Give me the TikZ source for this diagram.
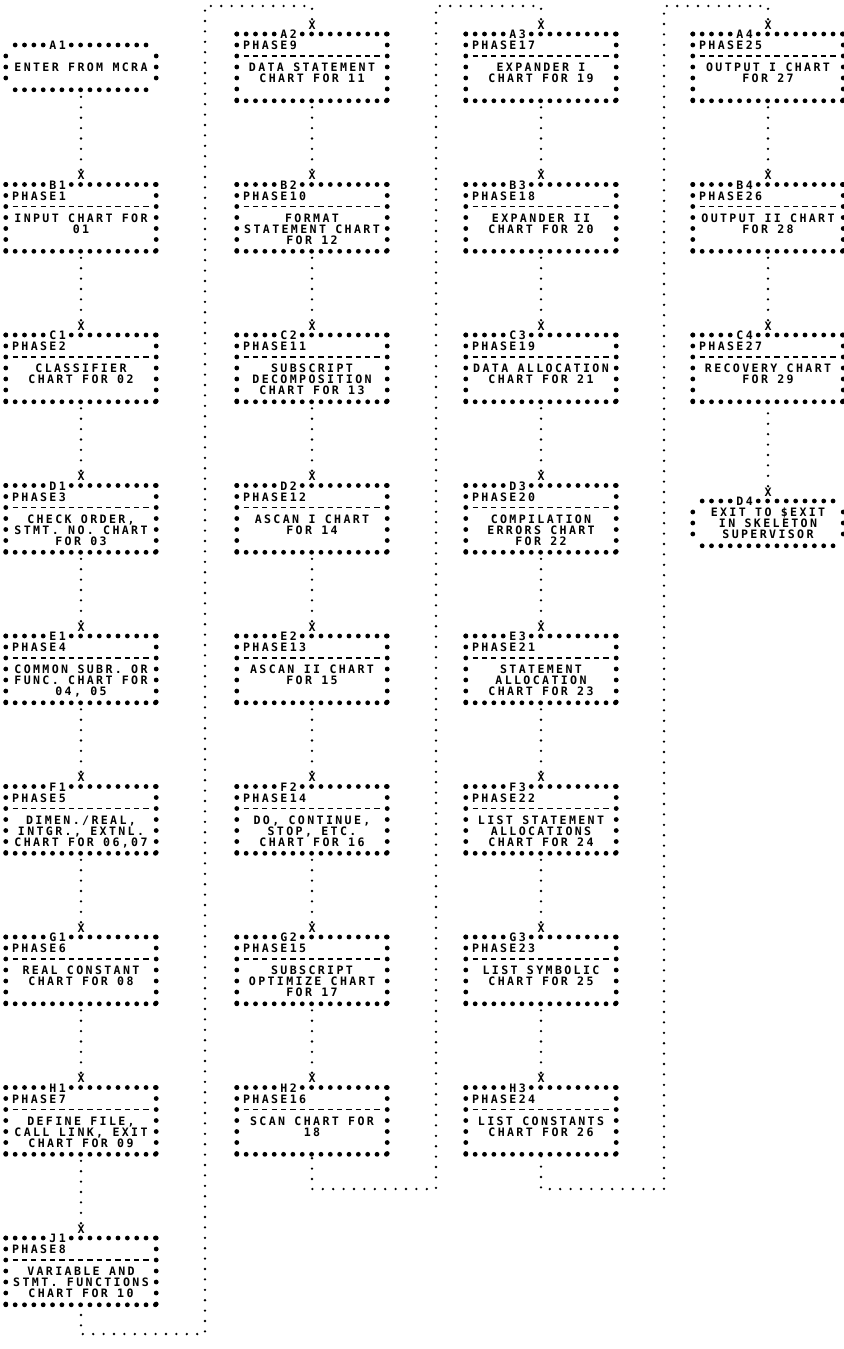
\documentclass[tikz,border=0pt]{standalone}
\usepackage{fontspec}
\usetikzlibrary{positioning}
\newfontfamily\prt{DejaVu Sans Mono}[LetterSpace=20.4]
\newlength\chw \setlength\chw{4.675pt}
\newlength\lnh \setlength\lnh{5.5pt}
\newcommand\prtfont{\prt\bfseries\fontsize{5.8pt}{5.5pt}\selectfont\frenchspacing
  \fontdimen2\font=4.675pt\fontdimen3\font=0pt\fontdimen4\font=0pt\spaceskip=4.675pt\relax}
\newcommand\tg[1]{\makebox[16\chw][l]{\hspace*{4.63\chw}#1}}
\newcommand\ph[1]{\makebox[16\chw][l]{\hspace*{0.63\chw}#1}\\\mbox{}\\}

\begin{document}
\begin{tikzpicture}[x=0.5pt,y=-0.5pt]
\tikzset{
  star/.style={line width=2.4pt,line cap=round,dash pattern=on 0pt off \chw},
  starcol/.style={line width=2.4pt,line cap=round,dash pattern=on 0pt off \lnh},
  rule/.style={line width=0.8pt,dash pattern=on 2.6pt off 2.075pt},
  chartbox/.style={inner sep=0pt,text width=16*\chw,align=center,font=\prtfont,
    execute at begin node={\spaceskip=\chw\relax},
    text height=2.1pt,text depth=30.9pt,anchor=north,
    append after command={
      (\tikzlastnode.north west) edge[star] ([xshift=4*\chw+0.2pt]\tikzlastnode.north west)
      ([xshift=7*\chw]\tikzlastnode.north west) edge[star] ([xshift=0.2pt]\tikzlastnode.north east)
      (\tikzlastnode.south west) edge[star] ([xshift=0.2pt]\tikzlastnode.south east)
      (\tikzlastnode.north west) edge[starcol] ([yshift=-0.2pt]\tikzlastnode.south west)
      (\tikzlastnode.north east) edge[starcol] ([yshift=-0.2pt]\tikzlastnode.south east)
      ([shift={(\chw-1.3pt,-2*\lnh)}]\tikzlastnode.north west) edge[rule] ([shift={(1.3pt-\chw,-2*\lnh)}]\tikzlastnode.north east)
    }},
  termbox/.style={inner sep=0pt,text width=16*\chw,align=center,font=\prtfont,
    execute at begin node={\spaceskip=\chw\relax},
    text height=2.1pt,text depth=19.9pt,anchor=north,
    append after command={
      ([xshift=\chw]\tikzlastnode.north west) edge[star] ([xshift=4*\chw+0.2pt]\tikzlastnode.north west)
      ([xshift=7*\chw]\tikzlastnode.north west) edge[star] ([xshift=0.2pt-\chw]\tikzlastnode.north east)
      ([xshift=\chw]\tikzlastnode.south west) edge[star] ([xshift=0.2pt-\chw]\tikzlastnode.south east)
      ([yshift=-\lnh]\tikzlastnode.north west) edge[starcol] ([yshift=\lnh-0.2pt]\tikzlastnode.south west)
      ([yshift=-\lnh]\tikzlastnode.north east) edge[starcol] ([yshift=\lnh-0.2pt]\tikzlastnode.south east)
    }},
  xmark/.style={font=\prtfont,inner sep=0pt,text height=4.2pt,text depth=0pt},
  link/.style={line width=1.3pt,line cap=round,dash pattern=on 0pt off 5.2pt,shorten <=0.7pt}
}
\fill[white] (0,0) rectangle (844,1349);
\useasboundingbox (0,0) rectangle (844,1349);

\node[termbox] (a1) at (81,45) {\tg{A1}\\\mbox{}\\ENTER FROM MCRA};
\node[chartbox] (b1) at (81,184.5) {\tg{B1}\\\ph{PHASE1}INPUT CHART FOR\\01};
\node[chartbox] (c1) at (81,335) {\tg{C1}\\\ph{PHASE2}CLASSIFIER\\CHART FOR 02};
\node[chartbox] (d1) at (81,485.5) {\tg{D1}\\\ph{PHASE3}CHECK ORDER,\\STMT. NO. CHART\\FOR 03};
\node[chartbox] (e1) at (81,636) {\tg{E1}\\\ph{PHASE4}COMMON SUBR. OR\\FUNC. CHART FOR\\04, 05};
\node[chartbox] (f1) at (81,786.5) {\tg{F1}\\\ph{PHASE5}DIMEN./REAL,\\INTGR., EXTNL.\\CHART FOR 06,07};
\node[chartbox] (g1) at (81,937) {\tg{G1}\\\ph{PHASE6}REAL CONSTANT\\CHART FOR 08};
\node[chartbox] (h1) at (81,1087.5) {\tg{H1}\\\ph{PHASE7}DEFINE FILE,\\CALL LINK, EXIT\\CHART FOR 09};
\node[chartbox] (j1) at (81,1238) {\tg{J1}\\\ph{PHASE8}VARIABLE AND\\STMT. FUNCTIONS\\CHART FOR 10};

\node[chartbox] (a2) at (312,34) {\tg{A2}\\\ph{PHASE9}DATA STATEMENT\\CHART FOR 11};
\node[chartbox] (b2) at (312,184.5) {\tg{B2}\\\ph{PHASE10}FORMAT\\STATEMENT CHART\\FOR 12};
\node[chartbox] (c2) at (312,335) {\tg{C2}\\\ph{PHASE11}SUBSCRIPT\\DECOMPOSITION\\CHART FOR 13};
\node[chartbox] (d2) at (312,485.5) {\tg{D2}\\\ph{PHASE12}ASCAN I CHART\\FOR 14};
\node[chartbox] (e2) at (312,636) {\tg{E2}\\\ph{PHASE13}ASCAN II CHART\\FOR 15};
\node[chartbox] (f2) at (312,786.5) {\tg{F2}\\\ph{PHASE14}DO, CONTINUE,\\STOP, ETC.\\CHART FOR 16};
\node[chartbox] (g2) at (312,937) {\tg{G2}\\\ph{PHASE15}SUBSCRIPT\\OPTIMIZE CHART\\FOR 17};
\node[chartbox] (h2) at (312,1087.5) {\tg{H2}\\\ph{PHASE16}SCAN CHART FOR\\18};

\node[chartbox] (a3) at (541,34) {\tg{A3}\\\ph{PHASE17}EXPANDER I\\CHART FOR 19};
\node[chartbox] (b3) at (541,184.5) {\tg{B3}\\\ph{PHASE18}EXPANDER II\\CHART FOR 20};
\node[chartbox] (c3) at (541,335) {\tg{C3}\\\ph{PHASE19}DATA ALLOCATION\\CHART FOR 21};
\node[chartbox] (d3) at (541,485.5) {\tg{D3}\\\ph{PHASE20}COMPILATION\\ERRORS CHART\\FOR 22};
\node[chartbox] (e3) at (541,636) {\tg{E3}\\\ph{PHASE21}STATEMENT\\ALLOCATION\\CHART FOR 23};
\node[chartbox] (f3) at (541,786.5) {\tg{F3}\\\ph{PHASE22}LIST STATEMENT\\ALLOCATIONS\\CHART FOR 24};
\node[chartbox] (g3) at (541,937) {\tg{G3}\\\ph{PHASE23}LIST SYMBOLIC\\CHART FOR 25};
\node[chartbox] (h3) at (541,1087.5) {\tg{H3}\\\ph{PHASE24}LIST CONSTANTS\\CHART FOR 26};

\node[chartbox] (a4) at (768,34) {\tg{A4}\\\ph{PHASE25}OUTPUT I CHART\\FOR 27};
\node[chartbox] (b4) at (768,184.5) {\tg{B4}\\\ph{PHASE26}OUTPUT II CHART\\FOR 28};
\node[chartbox] (c4) at (768,335) {\tg{C4}\\\ph{PHASE27}RECOVERY CHART\\FOR 29};
\node[termbox] (d4) at (768,501) {\tg{D4}\\EXIT TO \$EXIT\\IN SKELETON\\SUPERVISOR};

\node[xmark,above=2.1pt of b1] (xb1) {X}; \node[xmark,above=2.1pt of c1] (xc1) {X};
\node[xmark,above=2.1pt of d1] (xd1) {X}; \node[xmark,above=2.1pt of e1] (xe1) {X};
\node[xmark,above=2.1pt of f1] (xf1) {X}; \node[xmark,above=2.1pt of g1] (xg1) {X};
\node[xmark,above=2.1pt of h1] (xh1) {X}; \node[xmark,above=2.1pt of j1] (xj1) {X};
\node[xmark,above=2.1pt of a2] (xa2) {X}; \node[xmark,above=2.1pt of b2] (xb2) {X};
\node[xmark,above=2.1pt of c2] (xc2) {X}; \node[xmark,above=2.1pt of d2] (xd2) {X};
\node[xmark,above=2.1pt of e2] (xe2) {X}; \node[xmark,above=2.1pt of f2] (xf2) {X};
\node[xmark,above=2.1pt of g2] (xg2) {X}; \node[xmark,above=2.1pt of h2] (xh2) {X};
\node[xmark,above=2.1pt of a3] (xa3) {X}; \node[xmark,above=2.1pt of b3] (xb3) {X};
\node[xmark,above=2.1pt of c3] (xc3) {X}; \node[xmark,above=2.1pt of d3] (xd3) {X};
\node[xmark,above=2.1pt of e3] (xe3) {X}; \node[xmark,above=2.1pt of f3] (xf3) {X};
\node[xmark,above=2.1pt of g3] (xg3) {X}; \node[xmark,above=2.1pt of h3] (xh3) {X};
\node[xmark,above=2.1pt of a4] (xa4) {X}; \node[xmark,above=2.1pt of b4] (xb4) {X};
\node[xmark,above=2.1pt of c4] (xc4) {X}; \node[xmark,above=2.1pt of d4] (xd4) {X};

\coordinate (tl2) at (205,6); \coordinate (bl2) at (205,1334);
\coordinate (tl3) at (436,6); \coordinate (bl3) at (436,1189);
\coordinate (tl4) at (664,6); \coordinate (bl4) at (664,1189);

\draw[link](xb1)--(a1); \draw[link](xc1)--(b1); \draw[link](xd1)--(c1); \draw[link](xe1)--(d1);
\draw[link](xf1)--(e1); \draw[link](xg1)--(f1); \draw[link](xh1)--(g1); \draw[link](xj1)--(h1);
\draw[link](xa2)|-(tl2)--(bl2)-|(j1);
\draw[link](xb2)--(a2); \draw[link](xc2)--(b2); \draw[link](xd2)--(c2); \draw[link](xe2)--(d2);
\draw[link](xf2)--(e2); \draw[link](xg2)--(f2); \draw[link](xh2)--(g2);
\draw[link](xa3)|-(tl3)--(bl3)-|(h2);
\draw[link](xb3)--(a3); \draw[link](xc3)--(b3); \draw[link](xd3)--(c3); \draw[link](xe3)--(d3);
\draw[link](xf3)--(e3); \draw[link](xg3)--(f3); \draw[link](xh3)--(g3);
\draw[link](xa4)|-(tl4)--(bl4)-|(h3);
\draw[link](xb4)--(a4); \draw[link](xc4)--(b4); \draw[link](xd4)--(c4);
\end{tikzpicture}
\end{document}
